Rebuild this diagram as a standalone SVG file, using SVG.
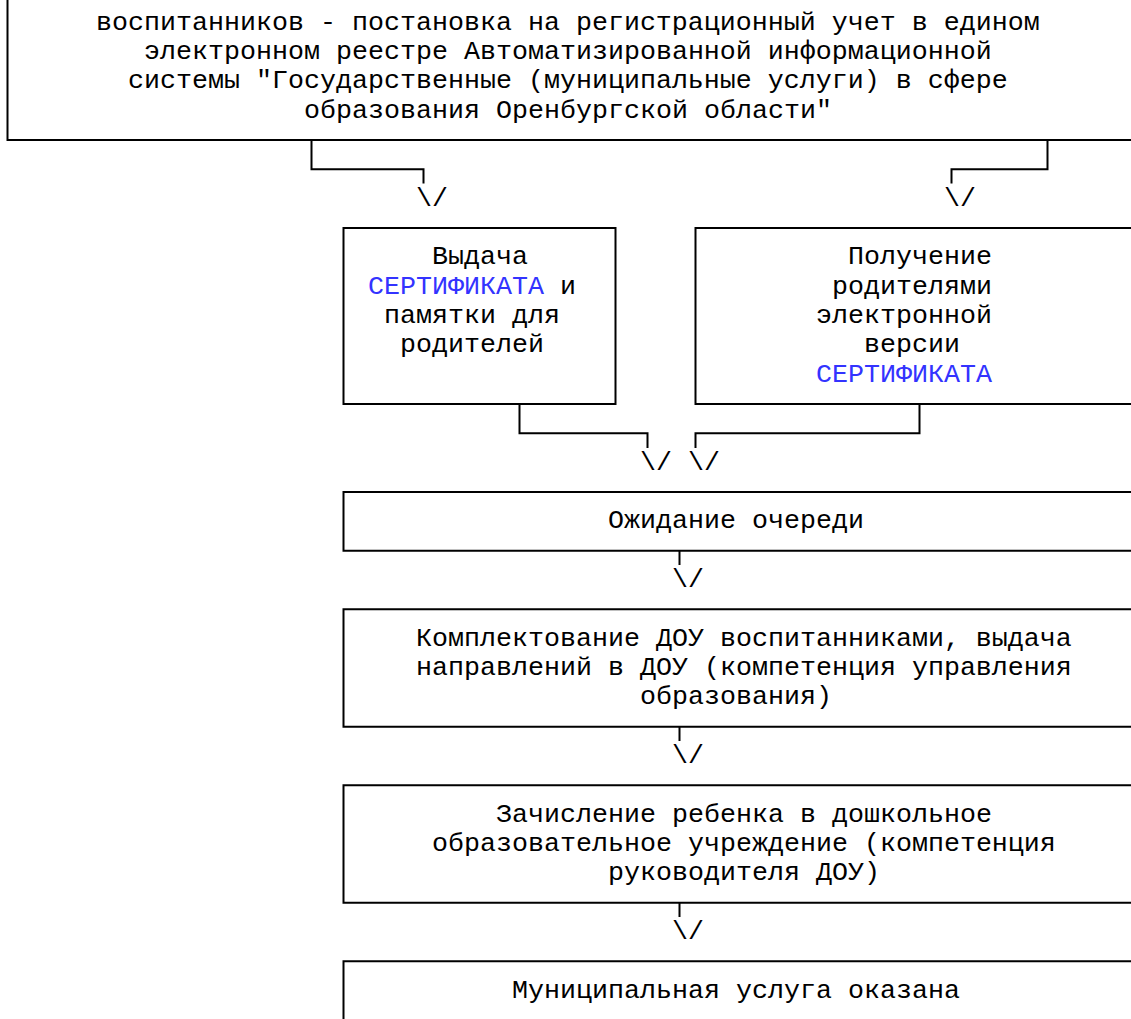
<svg xmlns="http://www.w3.org/2000/svg" width="1131" height="1019" viewBox="0 0 1131 1019">
<style>
.ln{stroke:#000;stroke-width:2;fill:none;stroke-linejoin:miter}
.t{font-family:"Liberation Mono","Courier New",monospace;font-size:26.67px;fill:#000}
.b{fill:#3333ff}
</style>
<rect x="0" y="0" width="1131" height="1019" fill="#fff"/>
<g id="node-register">
<path class="ln" d="M7.5 -2 V140 H1140"/>
<text class="t" x="96" y="29.67">воспитанников - постановка на регистрационный учет в едином</text>
<text class="t" x="144" y="59">электронном реестре Автоматизированной информационной</text>
<text class="t" x="128" y="88.33">системы "Государственные (муниципальные услуги) в сфере</text>
<text class="t" x="304" y="117.67">образования Оренбургской области"</text>
</g>
<g id="node-certificate">
<rect class="ln" x="343.5" y="228" width="272" height="176"/>
<text class="t" x="432" y="264.33">Выдача</text>
<text class="t" x="368" y="293.67"><tspan class="b">СЕРТИФИКАТА</tspan> и</text>
<text class="t" x="384" y="323">памятки для</text>
<text class="t" x="400" y="352.33">родителей</text>
</g>
<g id="node-electronic">
<path class="ln" d="M1140 228 H695.5 V404 H1140"/>
<text class="t" x="848" y="264.33">Получение</text>
<text class="t" x="832" y="293.67">родителями</text>
<text class="t" x="816" y="323">электронной</text>
<text class="t" x="864" y="352.33">версии</text>
<text class="t b" x="816" y="381.67">СЕРТИФИКАТА</text>
</g>
<g id="node-queue">
<path class="ln" d="M1140 492 H343.5 V550.67 H1140"/>
<text class="t" x="608" y="528.33">Ожидание очереди</text>
</g>
<g id="node-staffing">
<path class="ln" d="M1140 609.33 H343.5 V726.67 H1140"/>
<text class="t" x="416" y="645.67">Комплектование ДОУ воспитанниками, выдача</text>
<text class="t" x="416" y="675">направлений в ДОУ (компетенция управления</text>
<text class="t" x="640" y="704.33">образования)</text>
</g>
<g id="node-enrollment">
<path class="ln" d="M1140 785.33 H343.5 V902.67 H1140"/>
<text class="t" x="496" y="821.67">Зачисление ребенка в дошкольное</text>
<text class="t" x="432" y="851">образовательное учреждение (компетенция</text>
<text class="t" x="608" y="880.33">руководителя ДОУ)</text>
</g>
<g id="node-done">
<path class="ln" d="M1140 961.33 H343.5 V1025"/>
<text class="t" x="512" y="997.67">Муниципальная услуга оказана</text>
</g>
<g id="connectors">
<path class="ln" d="M311.5 140 V169.33 H423.5 V183.5"/>
<path class="ln" d="M1047.5 140 V169.33 H951.5 V183.5"/>
<path class="ln" d="M519.5 404 V433.33 H647.5 V448"/>
<path class="ln" d="M919.5 404 V433.33 H695.5 V448"/>
<path class="ln" d="M679.5 550.67 V565"/>
<path class="ln" d="M679.5 726.67 V741"/>
<path class="ln" d="M679.5 902.67 V917"/>
<text class="t" x="416" y="205.67">\/</text>
<text class="t" x="944" y="205.67">\/</text>
<text class="t" x="640" y="469.67">\/</text>
<text class="t" x="688" y="469.67">\/</text>
<text class="t" x="672" y="587">\/</text>
<text class="t" x="672" y="763">\/</text>
<text class="t" x="672" y="939">\/</text>
</g>
</svg>
